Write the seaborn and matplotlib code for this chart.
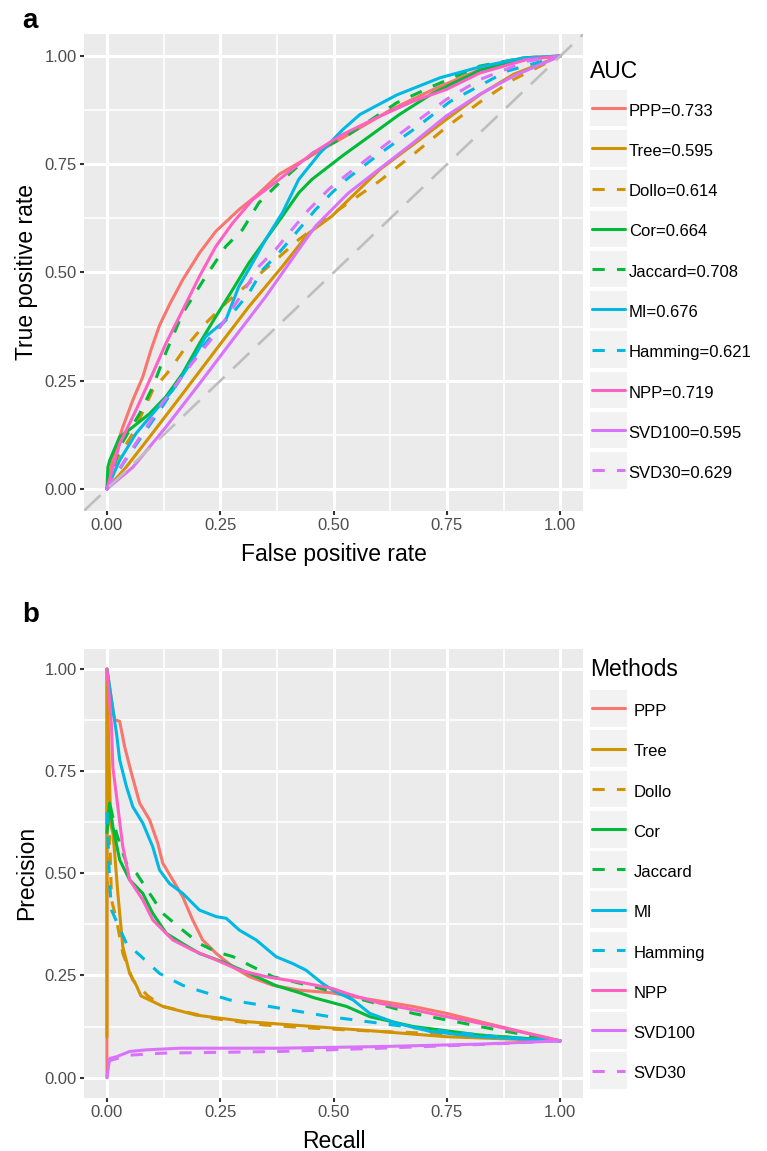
import matplotlib
matplotlib.use("Agg")
import matplotlib.pyplot as plt
import seaborn as sns
import pandas as pd
from matplotlib.lines import Line2D
from matplotlib.patches import Rectangle
from matplotlib.legend_handler import HandlerBase

methods = ["PPP", "Tree", "Dollo", "Cor", "Jaccard", "MI", "Hamming", "NPP", "SVD100", "SVD30"]
auc_values = [0.733, 0.595, 0.614, 0.664, 0.708, 0.676, 0.621, 0.719, 0.595, 0.629]
linetypes = ["solid", "solid", "dashed", "solid", "dashed", "solid", "dashed", "solid", "solid", "dashed"]
colors = ["#F8766D", "#D39200", "#D39200", "#00BA38", "#00BA38", "#00B9E3", "#00B9E3", "#FF61C3", "#DB72FB", "#DB72FB"]

# ROC curves, (false positive rate, true positive rate)
roc_ppp = [(0, 0), (0.013, 0.073), (0.035, 0.143), (0.057, 0.205), (0.079, 0.259), (0.097, 0.321), (0.116, 0.378),
           (0.138, 0.426), (0.167, 0.483), (0.204, 0.545), (0.24, 0.595), (0.291, 0.645), (0.328, 0.676),
           (0.38, 0.727), (0.454, 0.772), (0.528, 0.816), (0.628, 0.877), (0.72, 0.923), (0.823, 0.969),
           (0.919, 0.996), (1, 1)]
roc_tree = [(0, 0), (0.042, 0.05), (0.094, 0.12), (0.167, 0.22), (0.24, 0.321), (0.313, 0.421), (0.387, 0.514),
            (0.445, 0.591), (0.496, 0.63), (0.533, 0.668), (0.602, 0.738), (0.676, 0.796), (0.749, 0.854),
            (0.823, 0.911), (0.897, 0.958), (1, 1)]
roc_dollo = [(0, 0), (0.02, 0.066), (0.057, 0.128), (0.101, 0.228), (0.138, 0.274), (0.174, 0.328), (0.218, 0.383),
             (0.262, 0.429), (0.313, 0.475), (0.365, 0.522), (0.423, 0.576), (0.511, 0.645), (0.602, 0.712),
             (0.676, 0.773), (0.749, 0.836), (0.823, 0.894), (0.897, 0.946), (1, 1)]
roc_cor = [(0, 0), (0.002, 0.05), (0.006, 0.066), (0.028, 0.12), (0.057, 0.143), (0.094, 0.174), (0.13, 0.213),
           (0.167, 0.267), (0.204, 0.336), (0.24, 0.398), (0.277, 0.46), (0.313, 0.522), (0.35, 0.576),
           (0.387, 0.63), (0.423, 0.684), (0.452, 0.715), (0.52, 0.77), (0.586, 0.82), (0.645, 0.865),
           (0.72, 0.915), (0.823, 0.967), (0.919, 0.993), (1, 1)]
roc_jaccard = [(0, 0), (0.028, 0.097), (0.072, 0.174), (0.101, 0.236), (0.13, 0.315), (0.167, 0.406), (0.218, 0.491),
               (0.262, 0.56), (0.299, 0.599), (0.335, 0.661), (0.38, 0.707), (0.454, 0.776), (0.528, 0.815),
               (0.639, 0.892), (0.72, 0.931), (0.823, 0.977), (0.919, 0.996), (1, 1)]
roc_mi = [(0, 0), (0.028, 0.066), (0.064, 0.128), (0.101, 0.174), (0.145, 0.228), (0.189, 0.298), (0.218, 0.352),
          (0.262, 0.39), (0.291, 0.468), (0.321, 0.522), (0.35, 0.576), (0.387, 0.638), (0.423, 0.715),
          (0.469, 0.775), (0.52, 0.83), (0.558, 0.865), (0.639, 0.91), (0.735, 0.95), (0.823, 0.975),
          (0.919, 0.996), (1, 1)]
roc_hamming = [(0, 0), (0.041, 0.067), (0.122, 0.19), (0.181, 0.285), (0.235, 0.36), (0.277, 0.406), (0.313, 0.452),
               (0.343, 0.506), (0.379, 0.545), (0.423, 0.599), (0.46, 0.645), (0.496, 0.684), (0.528, 0.715),
               (0.602, 0.775), (0.676, 0.83), (0.757, 0.895), (0.882, 0.965), (1, 1)]
roc_npp = [(0, 0), (0.028, 0.104), (0.064, 0.182), (0.101, 0.267), (0.13, 0.336), (0.167, 0.413), (0.204, 0.491),
           (0.24, 0.56), (0.277, 0.614), (0.321, 0.668), (0.38, 0.715), (0.454, 0.776), (0.52, 0.819),
           (0.602, 0.861), (0.676, 0.896), (0.749, 0.923), (0.823, 0.961), (0.926, 0.992), (1, 1)]
roc_svd100 = [(0, 0), (0.057, 0.05), (0.13, 0.143), (0.204, 0.243), (0.277, 0.344), (0.35, 0.444), (0.423, 0.553),
              (0.46, 0.607), (0.511, 0.661), (0.533, 0.684), (0.602, 0.74), (0.676, 0.8), (0.749, 0.862),
              (0.823, 0.912), (0.897, 0.954), (1, 1)]
roc_svd30 = [(0, 0), (0.049, 0.082), (0.122, 0.198), (0.18, 0.28), (0.24, 0.359), (0.299, 0.452), (0.335, 0.514),
             (0.372, 0.553), (0.408, 0.599), (0.445, 0.645), (0.489, 0.692), (0.528, 0.725), (0.639, 0.815),
             (0.749, 0.9), (0.823, 0.946), (0.926, 0.988), (1, 1)]

# precision-recall curves, (recall, precision)
pr_ppp = [(0, 0), (0, 1), (0.01, 0.925), (0.017, 0.876), (0.028, 0.872), (0.039, 0.81), (0.054, 0.745),
          (0.072, 0.672), (0.094, 0.631), (0.112, 0.574), (0.123, 0.525), (0.145, 0.484), (0.167, 0.443),
          (0.189, 0.386), (0.211, 0.337), (0.241, 0.304), (0.278, 0.271), (0.314, 0.247), (0.366, 0.226),
          (0.424, 0.214), (0.492, 0.208), (0.566, 0.194), (0.676, 0.174), (0.75, 0.157), (0.823, 0.137),
          (0.897, 0.117), (1, 0.09)]
pr_tree = [(0, 0.1), (0, 1), (0.008, 0.62), (0.013, 0.6), (0.017, 0.549), (0.024, 0.451), (0.035, 0.32),
           (0.05, 0.255), (0.065, 0.225), (0.075, 0.2), (0.124, 0.174), (0.197, 0.153), (0.308, 0.137),
           (0.455, 0.125), (0.602, 0.113), (0.75, 0.1), (1, 0.09)]
pr_dollo = [(0, 0.45), (0.006, 0.59), (0.01, 0.435), (0.021, 0.386), (0.035, 0.304), (0.057, 0.239), (0.09, 0.2),
            (0.124, 0.174), (0.234, 0.145), (0.345, 0.129), (0.455, 0.121), (0.602, 0.113), (0.823, 0.104), (1, 0.09)]
pr_cor = [(0, 0.6), (0.006, 0.672), (0.013, 0.614), (0.028, 0.533), (0.05, 0.484), (0.079, 0.451), (0.101, 0.402),
          (0.131, 0.353), (0.167, 0.328), (0.204, 0.304), (0.256, 0.283), (0.314, 0.255), (0.373, 0.225),
          (0.424, 0.208), (0.455, 0.196), (0.529, 0.174), (0.58, 0.149), (0.676, 0.125), (0.823, 0.104), (1, 0.09)]
pr_jaccard = [(0, 0.62), (0.006, 0.672), (0.021, 0.598), (0.043, 0.524), (0.065, 0.5), (0.094, 0.451),
              (0.123, 0.402), (0.167, 0.361), (0.204, 0.328), (0.241, 0.308), (0.278, 0.296), (0.322, 0.271),
              (0.366, 0.247), (0.455, 0.223), (0.566, 0.19), (0.676, 0.157), (0.75, 0.141), (0.86, 0.117), (1, 0.09)]
pr_mi = [(0, 1), (0.013, 0.9), (0.021, 0.843), (0.028, 0.778), (0.043, 0.712), (0.057, 0.663), (0.079, 0.623),
         (0.101, 0.565), (0.116, 0.508), (0.138, 0.475), (0.167, 0.451), (0.204, 0.41), (0.241, 0.394),
         (0.263, 0.39), (0.292, 0.361), (0.329, 0.337), (0.373, 0.296), (0.41, 0.279), (0.439, 0.263),
         (0.476, 0.23), (0.498, 0.214), (0.543, 0.19), (0.58, 0.157), (0.639, 0.133), (0.713, 0.113),
         (0.823, 0.1), (1, 0.09)]
pr_hamming = [(0, 0.65), (0.006, 0.476), (0.01, 0.41), (0.043, 0.328), (0.072, 0.3), (0.116, 0.255), (0.167, 0.226),
              (0.197, 0.215), (0.271, 0.19), (0.381, 0.17), (0.492, 0.149), (0.602, 0.133), (0.713, 0.117),
              (0.86, 0.1), (1, 0.09)]
pr_npp = [(0, 1), (0.01, 0.86), (0.013, 0.76), (0.024, 0.663), (0.035, 0.565), (0.05, 0.484), (0.079, 0.435),
          (0.101, 0.386), (0.145, 0.337), (0.189, 0.312), (0.241, 0.288), (0.292, 0.263), (0.351, 0.247),
          (0.424, 0.234), (0.498, 0.218), (0.529, 0.206), (0.602, 0.182), (0.676, 0.166), (0.75, 0.149),
          (0.86, 0.125), (1, 0.09)]
pr_svd100 = [(0, 0), (0.006, 0.047), (0.021, 0.051), (0.05, 0.064), (0.087, 0.068), (0.161, 0.072), (0.381, 0.072),
             (0.602, 0.076), (0.823, 0.082), (1, 0.09)]
pr_svd30 = [(0, 0.04), (0.05, 0.055), (0.124, 0.06), (0.381, 0.064), (0.602, 0.072), (0.823, 0.081), (1, 0.09)]

roc_curves = [roc_ppp, roc_tree, roc_dollo, roc_cor, roc_jaccard, roc_mi, roc_hamming, roc_npp, roc_svd100, roc_svd30]
pr_curves = [pr_ppp, pr_tree, pr_dollo, pr_cor, pr_jaccard, pr_mi, pr_hamming, pr_npp, pr_svd100, pr_svd30]


def to_frame(curves):
    rows = []
    for m, lt, pts in zip(methods, linetypes, curves):
        for i, (x, y) in enumerate(pts):
            rows.append({"method": m, "linetype": lt, "order": i, "x": x, "y": y})
    return pd.DataFrame(rows)


roc_df = to_frame(roc_curves)
pr_df = to_frame(pr_curves)

sns.set_theme(style="darkgrid", rc={
    "axes.facecolor": "#EBEBEB",
    "grid.color": "white",
    "text.color": "black",
    "axes.labelcolor": "black",
    "xtick.color": "#333333",
    "ytick.color": "#333333",
    "xtick.labelcolor": "#4D4D4D",
    "ytick.labelcolor": "#4D4D4D",
})
plt.rcParams["font.family"] = ["Liberation Sans", "DejaVu Sans"]

palette = dict(zip(methods, colors))
dash_map = {"solid": "", "dashed": (4, 4)}
LW = 2.2


class KeyBox(HandlerBase):
    # grey ggplot-style key square with the line centred in it
    def create_artists(self, legend, orig_handle, xdescent, ydescent, width, height, fontsize, trans):
        y0 = -ydescent + 2.0
        box = Rectangle((-xdescent, y0), width, height, facecolor="#F2F2F2",
                        edgecolor="none", transform=trans)
        yc = y0 + height / 2
        line = Line2D([-xdescent + 1.5, width - xdescent - 1.5], [yc, yc])
        self.update_prop(line, orig_handle, legend)
        line.set_transform(trans)
        return [box, line]


def style_axis(ax, xlabel, ylabel):
    ticks = [0, 0.25, 0.5, 0.75, 1.0]
    ax.set_xlim(-0.05, 1.05)
    ax.set_ylim(-0.05, 1.05)
    ax.set_xticks(ticks)
    ax.set_yticks(ticks)
    ax.set_xticks([0.125, 0.375, 0.625, 0.875], minor=True)
    ax.set_yticks([0.125, 0.375, 0.625, 0.875], minor=True)
    ax.set_xticklabels(["%.2f" % t for t in ticks])
    ax.set_yticklabels(["%.2f" % t for t in ticks])
    ax.grid(which="major", color="white", linewidth=2.2)
    ax.grid(which="minor", color="white", linewidth=1.2)
    ax.tick_params(which="major", length=3.2, width=1.5, labelsize=12, pad=2, bottom=True, left=True)
    ax.tick_params(which="minor", length=0)
    for s in ax.spines.values():
        s.set_visible(False)
    ax.set_xlabel(xlabel, fontsize=16.5, labelpad=7)
    ax.set_ylabel(ylabel, fontsize=16.5, labelpad=5)


def add_legend(ax, fig, title, labels, top_px, textpad, title_gap):
    handles = [Line2D([], [], color=c, linewidth=LW, dashes=dash_map[lt] if lt == "dashed" else (None, None))
               for c, lt in zip(colors, linetypes)]
    leg = ax.legend(handles, labels, handler_map={Line2D: KeyBox()},
                    loc="upper left", bbox_to_anchor=(590 / 767, 1 - top_px / 1151),
                    bbox_transform=fig.transFigure, frameon=False, title=title,
                    title_fontsize=16.5, fontsize=12, alignment="left",
                    handlelength=2.2, handleheight=3.0, labelspacing=0.22,
                    handletextpad=textpad, borderpad=0, borderaxespad=0)
    leg._legend_box.sep = title_gap
    return leg


fig = plt.figure(figsize=(7.67, 11.51), dpi=100)
ax1 = fig.add_axes([0.1099, 0.5564, 0.6502, 0.4137])
ax2 = fig.add_axes([0.1099, 0.0460, 0.6502, 0.3905])

sns.lineplot(data=roc_df, x="x", y="y", hue="method", style="linetype", units="method",
             estimator=None, sort=False, hue_order=methods, palette=palette,
             style_order=["solid", "dashed"], dashes=dash_map, linewidth=LW, legend=False, ax=ax1)
ax1.axline((0, 0), slope=1, color="#BEBEBE", linewidth=1.9, dashes=(8.5, 4.5), zorder=3)
style_axis(ax1, "False positive rate", "True positive rate")
add_legend(ax1, fig, "AUC", ["%s=%.3f" % (m, a) for m, a in zip(methods, auc_values)], 60, 0.12, 6.9)

sns.lineplot(data=pr_df, x="x", y="y", hue="method", style="linetype", units="method",
             estimator=None, sort=False, hue_order=methods, palette=palette,
             style_order=["solid", "dashed"], dashes=dash_map, linewidth=LW, legend=False, ax=ax2)
style_axis(ax2, "Recall", "Precision")
add_legend(ax2, fig, "Methods", methods, 658, 0.4, 8.6)

fig.text(22 / 767, 1 - 28 / 1151, "a", fontsize=20, fontweight="bold", va="baseline")
fig.text(22 / 767, 1 - 622 / 1151, "b", fontsize=20, fontweight="bold", va="baseline")

fig.savefig("out.png", dpi=100)
